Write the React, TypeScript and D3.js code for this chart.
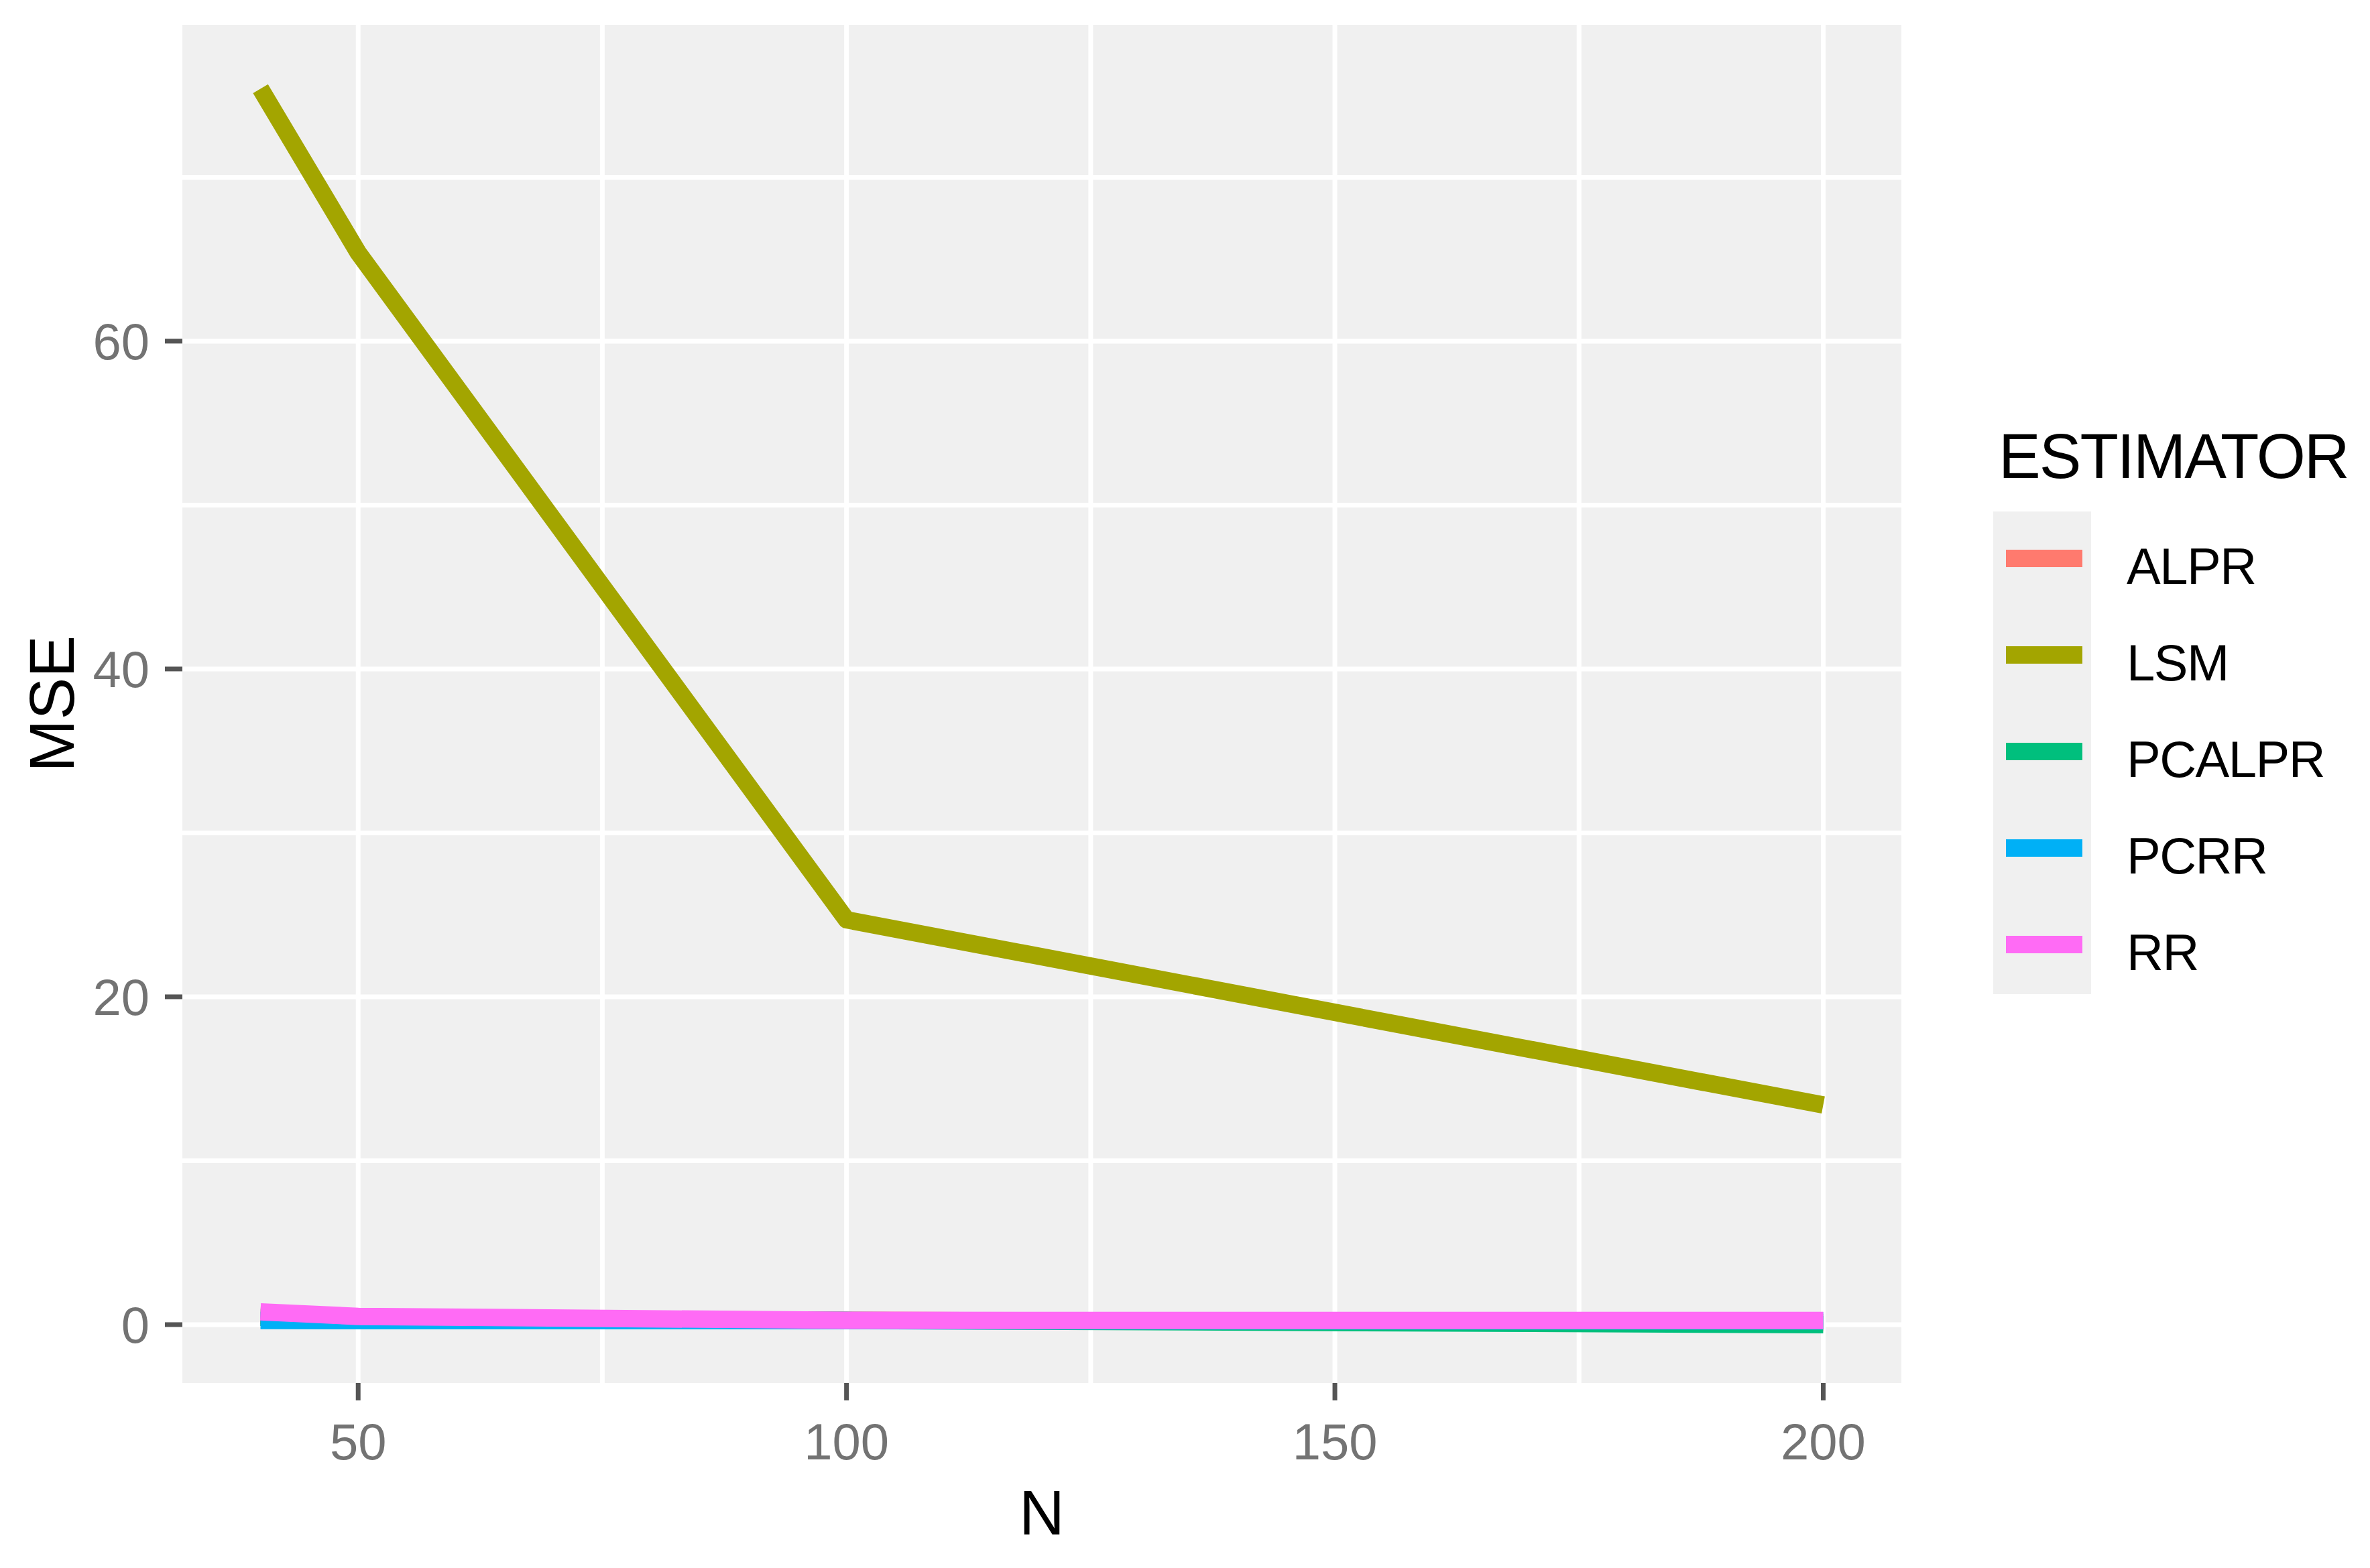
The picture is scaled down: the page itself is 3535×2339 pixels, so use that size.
import React from "react";
import * as d3 from "d3";

// ---- data ----
const N_VALUES = [40, 50, 100, 200];
const ESTIMATORS = ["ALPR", "LSM", "PCALPR", "PCRR", "RR"];
const ALPR = [0.55, 0.38, 0.26, 0.12];
const LSM = [75.4, 65.4, 24.7, 13.4];
const PCALPR = [0.45, 0.32, 0.26, 0.0];
const PCRR = [0.25, 0.24, 0.24, 0.23];
const RR = [0.78, 0.5, 0.26, 0.25];
const X_TICKS = [50, 100, 150, 200];
const X_MINOR = [75, 125, 175];
const Y_TICKS = [0, 20, 40, 60];
const Y_MINOR = [10, 30, 50, 70];

const SERIES: number[][] = [ALPR, LSM, PCALPR, PCRR, RR];
const COLORS = ["#FF7A6E", "#A3A500", "#00BF7D", "#00B0F6", "#FF6BF5"];

// ---- layout ----
const W = 3535;
const H = 2339;
const P = { left: 272, right: 2836, top: 37, bottom: 2063 };
const FONT = "'Liberation Sans', Arial, Helvetica, sans-serif";

export default function App() {
  const x = d3.scaleLinear().domain([32, 208]).range([P.left, P.right]);
  const y = d3.scaleLinear().domain([-3.56, 79.3]).range([P.bottom, P.top]);

  const line = d3
    .line<[number, number]>()
    .x((d) => x(d[0]))
    .y((d) => y(d[1]));

  const keyX0 = 2973;
  const keyX1 = 3119;
  const keyTop = 763;
  const keyH = 144;

  return (
    <svg
      width={W}
      height={H}
      viewBox={`0 0 ${W} ${H}`}
      style={{ position: "absolute", left: 0, top: 0, background: "#fff" }}
      fontFamily={FONT}
    >
      <rect x={0} y={0} width={W} height={H} fill="#fff" />
      {/* panel */}
      <rect
        x={P.left}
        y={P.top}
        width={P.right - P.left}
        height={P.bottom - P.top}
        fill="#F0F0F0"
      />
      {/* minor grid */}
      {Y_MINOR.map((v) => (
        <line key={"ym" + v} x1={P.left} x2={P.right} y1={y(v)} y2={y(v)} stroke="#fff" strokeWidth={7} />
      ))}
      {X_MINOR.map((v) => (
        <line key={"xm" + v} y1={P.top} y2={P.bottom} x1={x(v)} x2={x(v)} stroke="#fff" strokeWidth={7} />
      ))}
      {/* major grid */}
      {Y_TICKS.map((v) => (
        <line key={"yg" + v} x1={P.left} x2={P.right} y1={y(v)} y2={y(v)} stroke="#fff" strokeWidth={7} />
      ))}
      {X_TICKS.map((v) => (
        <line key={"xg" + v} y1={P.top} y2={P.bottom} x1={x(v)} x2={x(v)} stroke="#fff" strokeWidth={7} />
      ))}
      {/* series */}
      {SERIES.map((vals, i) => (
        <path
          key={ESTIMATORS[i]}
          d={line(N_VALUES.map((n, j) => [n, vals[j]] as [number, number])) || ""}
          fill="none"
          stroke={COLORS[i]}
          strokeWidth={26}
          strokeLinecap="butt"
          strokeLinejoin="round"
        />
      ))}
      {/* y axis ticks + labels */}
      {Y_TICKS.map((v) => (
        <g key={"yt" + v}>
          <line x1={P.left - 26} x2={P.left} y1={y(v)} y2={y(v)} stroke="#555555" strokeWidth={7} />
          <text x={P.left - 49} y={y(v) + 27} textAnchor="end" fontSize={76} fill="#737373">
            {v}
          </text>
        </g>
      ))}
      {/* x axis ticks + labels */}
      {X_TICKS.map((v) => (
        <g key={"xt" + v}>
          <line x1={x(v)} x2={x(v)} y1={P.bottom} y2={P.bottom + 26} stroke="#555555" strokeWidth={7} />
          <text x={x(v)} y={2177} textAnchor="middle" fontSize={76} fill="#737373">
            {v}
          </text>
        </g>
      ))}
      {/* axis titles */}
      <text x={(P.left + P.right) / 2} y={2289} textAnchor="middle" fontSize={94} fill="#000">
        N
      </text>
      <text
        transform={`translate(110, ${(P.top + P.bottom) / 2}) rotate(-90)`}
        textAnchor="middle"
        fontSize={94}
        fill="#000"
      >
        MSE
      </text>
      {/* legend */}
      <text x={2981} y={713} fontSize={94} fill="#000" letterSpacing={-2}>
        ESTIMATOR
      </text>
      <rect x={keyX0} y={keyTop} width={keyX1 - keyX0} height={keyH * ESTIMATORS.length} fill="#F0F0F0" />
      {ESTIMATORS.map((name, i) => {
        const cy = keyTop + keyH * i + keyH / 2 - 2;
        return (
          <g key={"lg" + name}>
            <line x1={2992} x2={3106} y1={cy} y2={cy} stroke={COLORS[i]} strokeWidth={26} />
            <text x={3172} y={cy + 38} fontSize={76} fill="#000" letterSpacing={-1.5}>
              {name}
            </text>
          </g>
        );
      })}
    </svg>
  );
}
